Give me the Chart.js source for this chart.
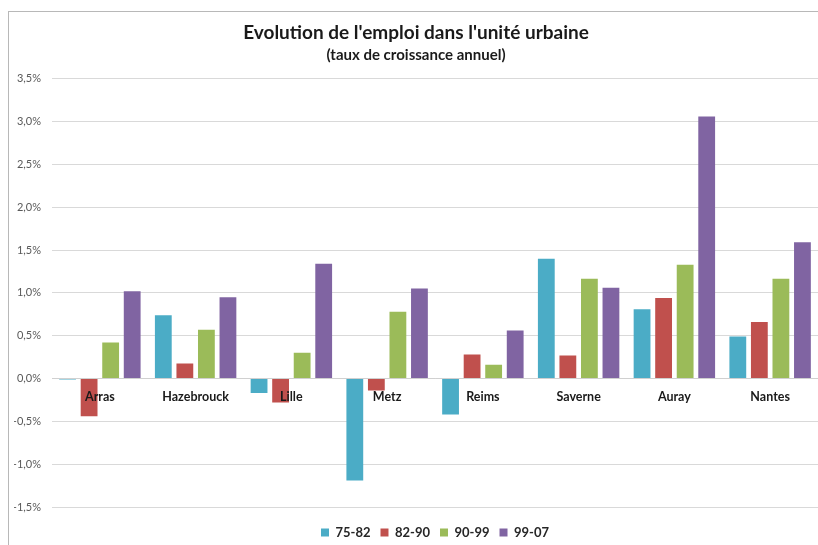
<!DOCTYPE html>
<html><head><meta charset="utf-8">
<script src="https://cdn.jsdelivr.net/npm/chart.js@4"></script>
<style>
html,body{margin:0;padding:0;background:#fff}
#wrap{position:relative;width:818px;height:545px;overflow:hidden}
#frame{position:absolute;left:8px;top:11px;width:820px;height:540px;border-top:1px solid #b8b8b8;border-left:1px solid #b8b8b8}
canvas{position:absolute;left:0;top:0}
</style></head><body>
<div id="wrap"><div id="frame"></div><canvas id="c" width="818" height="545"></canvas></div>
<script>
const categories = ['Arras','Hazebrouck','Lille','Metz','Reims','Saverne','Auray','Nantes'];
const periods = ['75-82','82-90','90-99','99-07'];
const s7582 = [-0.01, 0.74, -0.17, -1.19, -0.42, 1.40, 0.81, 0.49];
const s8290 = [-0.44, 0.175, -0.28, -0.14, 0.28, 0.27, 0.94, 0.66];
const s9099 = [0.42, 0.57, 0.30, 0.78, 0.16, 1.165, 1.33, 1.165];
const s9907 = [1.02, 0.95, 1.34, 1.05, 0.56, 1.06, 3.06, 1.59];
const colors = ['#4BACC6','#C0504D','#9BBB59','#8064A2'];
const yMin = -1.5, yMax = 3.5, yStep = 0.5;

const seriesValues = [s7582, s8290, s9099, s9907];
const FONT = 'Lato, "Open Sans", sans-serif';

new Chart(document.getElementById('c'), {
  type: 'bar',
  data: {
    labels: categories,
    datasets: periods.map((p, i) => ({
      label: p,
      data: seriesValues[i],
      backgroundColor: colors[i],
      borderWidth: 0,
      barPercentage: 0.78,
      categoryPercentage: 0.9
    }))
  },
  options: {
    responsive: false,
    devicePixelRatio: 1,
    animation: false,
    layout: { padding: { left: 14, right: 0, top: 0, bottom: -4 } },
    plugins: {
      title: {
        display: true,
        text: "Evolution de l'emploi dans l'unité urbaine",
        color: '#1a1a1a',
        font: { family: FONT, size: 19, weight: 'bold' },
        padding: { top: 21, bottom: 2 }
      },
      subtitle: {
        display: true,
        text: '(taux de croissance annuel)',
        color: '#1a1a1a',
        font: { family: FONT, size: 15, weight: 'bold' },
        padding: { top: 0, bottom: 15 }
      },
      legend: {
        position: 'bottom',
        fullSize: false,
        labels: {
          boxWidth: 8, boxHeight: 8, padding: 10,
          color: '#262626',
          font: { family: FONT, size: 13, weight: 'bold' }
        }
      },
      tooltip: { enabled: false }
    },
    scales: {
      y: {
        min: yMin, max: yMax,
        ticks: {
          stepSize: yStep,
          padding: 11,
          color: '#595959',
          font: { family: FONT, size: 11 },
          callback: v => v.toFixed(1).replace('.', ',') + '%'
        },
        grid: { color: '#d9d9d9', drawTicks: false },
        border: { display: false },
        afterFit: s => { s.width = 38; }
      },
      x: {
        position: { y: 0 },
        grid: { display: false, drawTicks: false },
        border: { display: true, color: '#d0d0d0' },
        ticks: {
          z: 1,
          padding: 11,
          color: '#1a1a1a',
          font: { family: FONT, size: 12.5, weight: 'bold' }
        },
        afterFit: s => { s.height = 0; }
      },
      pad: {
        type: 'linear',
        axis: 'x',
        position: 'bottom',
        display: true,
        grid: { display: false },
        border: { display: false },
        ticks: { display: false },
        afterFit: s => { s.height = 9; }
      }
    }
  }
});
</script>
</body></html>
